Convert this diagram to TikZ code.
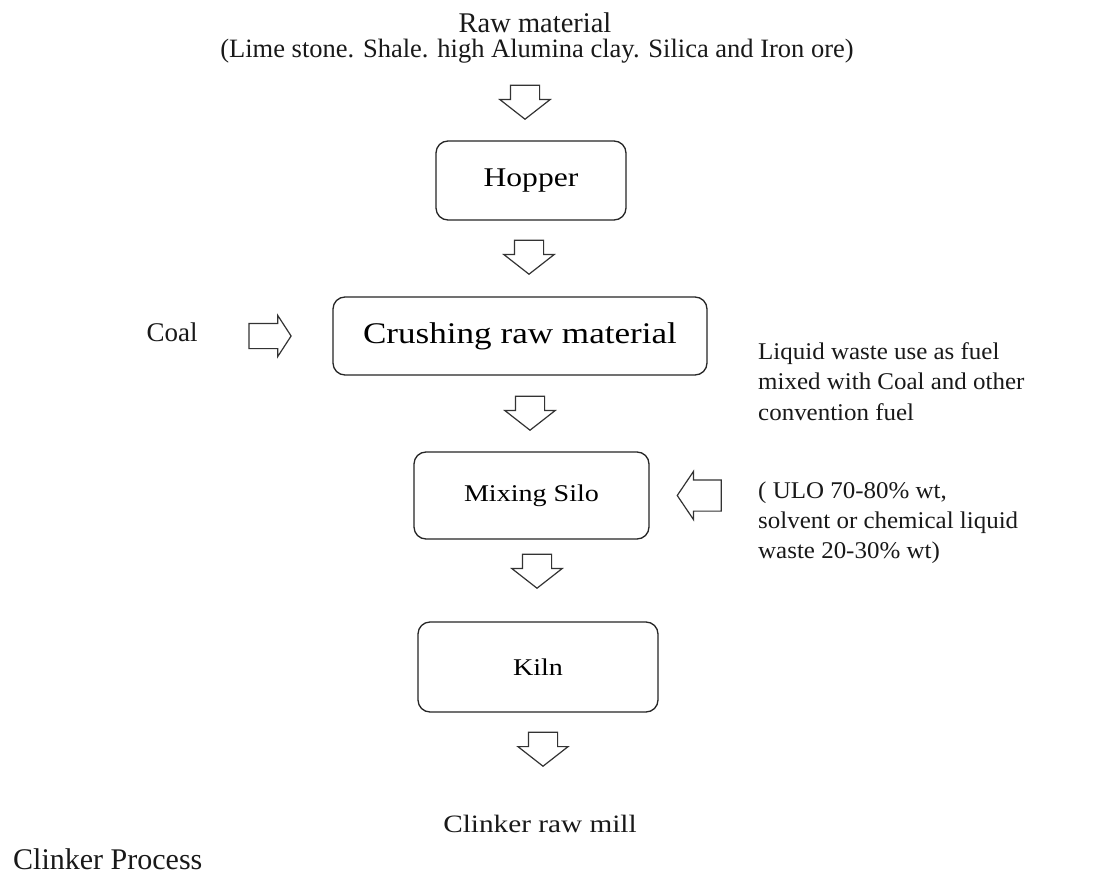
\documentclass[tikz,border=0pt]{standalone}
\usepackage{fontspec}
\setmainfont{Liberation Serif}
\newfontfamily\widefont[FakeStretch=1.17]{Liberation Serif}
\newfontfamily\notefont[FakeStretch=1.04]{Liberation Serif}
\usetikzlibrary{shapes.arrows}

\tikzset{
  procbox/.style={draw=black!85, line width=1.3pt, rounded corners=12pt,
    inner sep=0pt, fill=white},
  blockarrow/.style={shape=single arrow, draw=black!80, line width=1.2pt,
    fill=white, inner xsep=0pt, inner ysep=14pt, single arrow head extend=10.5pt,
    single arrow tip angle=104, minimum height=34pt, minimum width=49pt},
  sidearrow/.style={shape=single arrow, draw=black!80, line width=1.2pt,
    fill=white, inner xsep=0pt, inner ysep=15pt, single arrow head extend=8.5pt,
    single arrow tip angle=112, minimum height=44pt, minimum width=47pt},
  plain/.style={inner sep=0pt, text=black!90},
}

\begin{document}
\begin{tikzpicture}[x=1pt,y=-1pt]
  \useasboundingbox[fill=white] (0,0) rectangle (1099,874);

  % heading
  \node[plain, anchor=base] (raw) at (535,33)
    {\fontsize{28.5}{33}\selectfont Raw material};
  \node[plain, anchor=base] (rawlist) at (537,58)
    {\fontsize{26.5}{30}\selectfont (Lime stone. Shale. high Alumina clay. Silica and Iron ore)};

  % process boxes
  \node[procbox, minimum width=190pt, minimum height=79pt] (hopper) at (531,180.5)
    {\widefont\fontsize{27}{32}\selectfont Hopper};
  \node[procbox, minimum width=374pt, minimum height=78pt] (crush) at (520,336)
    {\widefont\fontsize{30}{36}\selectfont Crushing raw material};
  \node[procbox, minimum width=235pt, minimum height=87pt] (silo) at (531.5,495.5)
    {\widefont\fontsize{24}{29}\selectfont Mixing Silo};
  \node[procbox, minimum width=240pt, minimum height=90pt] (kiln) at (538,667)
    {\widefont\fontsize{24}{29}\selectfont Kiln};

  % downward flow arrows
  \node[blockarrow, rotate=-90] (a1) at (525,96.5) {};
  \node[blockarrow, rotate=-90] (a2) at (529,251.5) {};
  \node[blockarrow, rotate=-90] (a3) at (530,407.5) {};
  \node[blockarrow, rotate=-90] (a4) at (537,565.5) {};
  \node[blockarrow, rotate=-90] (a5) at (543,743.5) {};

  % coal feed
  \node[plain, anchor=base] (coal) at (172,341)
    {\fontsize{27}{32}\selectfont Coal};
  \node[sidearrow, minimum height=42pt, minimum width=40pt, inner ysep=12pt,
        single arrow head extend=8pt, single arrow tip angle=114] (coalin) at (266,336) {};

  % liquid waste feed
  \node[plain, anchor=base west, align=left,
        font=\notefont\fontsize{24}{30.5}\selectfont] (liquid) at (758,420)
    {Liquid waste use as fuel\\
     mixed with Coal and other\\
     convention fuel};
  \node[sidearrow, rotate=180] (liqin) at (704.5,495.5) {};
  \node[plain, anchor=base west, align=left,
        font=\notefont\fontsize{24}{30}\selectfont] (ulo) at (758,558)
    {( ULO 70-80\% wt,\\
     solvent or chemical liquid\\
     waste 20-30\% wt)};

  % output and caption
  \node[plain, anchor=base] (clinker) at (540,832)
    {\widefont\fontsize{25}{30}\selectfont Clinker raw mill};
  \node[plain, anchor=base west] (caption) at (13,869)
    {\fontsize{30}{35}\selectfont Clinker Process};
\end{tikzpicture}
\end{document}
